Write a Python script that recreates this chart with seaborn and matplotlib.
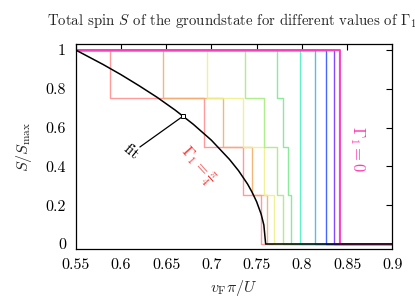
import matplotlib
matplotlib.use("Agg")
import matplotlib.pyplot as plt
import seaborn as sns
import pandas as pd

# ---- data ----
x_start, x_end = 0.55, 0.9
curve_names = ["pi/4", "c9", "c8", "c7", "c6", "c5", "c4", "c3", "c2", "c1", "0"]
curve_colors = ["#ff9090", "#f2b070", "#eef08a", "#a8ec80", "#80e890",
                "#50f0c0", "#40b8e0", "#3355ff", "#7a33ff", "#e090f0", "#ff33bb"]
# x positions where S/Smax drops, and the level reached after each drop
drop_red = [0.5883, 0.6918, 0.7349, 0.7548]
drop_orange = [0.6468, 0.7132, 0.7452, 0.7611]
drop_yellow = [0.6957, 0.7353, 0.7585, 0.7692]
drop_chartreuse = [0.7372, 0.7585, 0.7722, 0.7788]
drop_green = [0.7722, 0.7795, 0.7850, 0.7877]
drop_teal = [0.7983]
drop_cyan = [0.8149]
drop_blue = [0.8270]
drop_violet = [0.8359]
drop_purple = [0.8411]
drop_magenta = [0.8427]
levels_four = [0.75, 0.5, 0.25, 0.0]
levels_one = [0.0]

fit_x = [0.55, 0.58, 0.60, 0.62, 0.64, 0.66, 0.68, 0.70, 0.72, 0.73, 0.74,
         0.745, 0.75, 0.755, 0.758, 0.76, 0.9]
fit_y = [1.0, 0.926, 0.873, 0.816, 0.756, 0.690, 0.617, 0.535, 0.436, 0.378,
         0.309, 0.267, 0.218, 0.154, 0.098, 0.0, 0.0]
fit_mark_x, fit_mark_y = 0.669, 0.66

xticks = [0.55, 0.6, 0.65, 0.7, 0.75, 0.8, 0.85, 0.9]
xtick_labels = ["0.55", "0.6", "0.65", "0.7", "0.75", "0.8", "0.85", "0.9"]
yticks = [0, 0.2, 0.4, 0.6, 0.8, 1.0]
ytick_labels = ["0", "0.2", "0.4", "0.6", "0.8", "1"]

drops = [drop_red, drop_orange, drop_yellow, drop_chartreuse, drop_green,
         drop_teal, drop_cyan, drop_blue, drop_violet, drop_purple, drop_magenta]

sns.set_theme(style="white")
plt.rcParams["font.family"] = ["cmr10", "DejaVu Serif"]
plt.rcParams["mathtext.fontset"] = "cm"
plt.rcParams["axes.formatter.use_mathtext"] = True

FS = 11.5

fig = plt.figure(figsize=(4.15, 2.97), dpi=100)
ax = fig.add_axes([0.1824, 0.1616, 0.9453 - 0.1824, 0.8519 - 0.1616])

for name, col, d in zip(curve_names, curve_colors, drops):
    lv = levels_four if len(d) == 4 else levels_one
    xs = [x_start] + d + [x_end]
    ys = [1.0] + lv + [0.0]
    df = pd.DataFrame({"x": xs, "y": ys})
    lw = 1.4 if name == "0" else 1.0
    sns.lineplot(data=df, x="x", y="y", ax=ax, color=col, lw=lw, alpha=0.9,
                 drawstyle="steps-post", estimator=None, sort=False)

fit_df = pd.DataFrame({"x": fit_x, "y": fit_y})
sns.lineplot(data=fit_df, x="x", y="y", ax=ax, color="black", lw=1.1,
             estimator=None, sort=False)
ax.plot([fit_mark_x], [fit_mark_y], marker="s", ms=3.5, mfc="white",
        mec="black", mew=0.7, zorder=5)
ax.plot([fit_mark_x, 0.621], [fit_mark_y, 0.50], color="black", lw=0.9)
ax.text(0.611, 0.472, "fit", rotation=-40, ha="center", va="center",
        fontsize=FS, color="black")
ax.text(0.684, 0.40, r"$\Gamma_1 = \frac{\pi}{4}$", rotation=-48,
        ha="center", va="center", fontsize=FS, color="#ff3030")
ax.text(0.861, 0.49, r"$\Gamma_1 = 0$", rotation=-90,
        ha="center", va="center", fontsize=FS + 0.5, color="#ff40b0")

ax.set_xlim(x_start, x_end)
ax.set_ylim(-0.0258, 1.0309)
ax.set_xticks(xticks)
ax.set_xticklabels(xtick_labels)
ax.set_yticks(yticks)
ax.set_yticklabels(ytick_labels)
ax.tick_params(direction="in", length=4, width=0.8, top=True, right=True,
               labelsize=FS, pad=7, colors="black")
for s in ax.spines.values():
    s.set_color("black")
    s.set_linewidth(0.9)
ax.set_xlabel(r"$v_\mathrm{F}\pi/U$", fontsize=FS, labelpad=4)
ax.set_ylabel(r"$S/S_\mathrm{max}$", fontsize=FS, labelpad=8)

fig.text(47 / 415, 1 - 21 / 297,
         r"Total spin $S$ of the groundstate for different values of $\Gamma_1$",
         ha="left", va="center", fontsize=10.7)

fig.savefig("out.png", dpi=100)
